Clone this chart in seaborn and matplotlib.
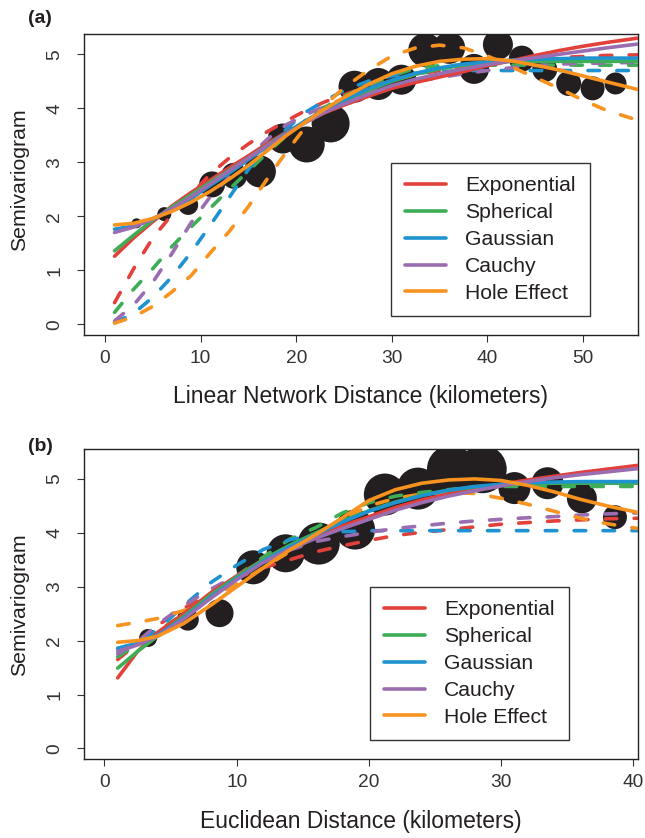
import numpy as np
import pandas as pd
import matplotlib
matplotlib.use("Agg")
import matplotlib.pyplot as plt
from matplotlib.lines import Line2D
import seaborn as sns

MODELS = ["Exponential", "Spherical", "Gaussian", "Cauchy", "Hole Effect"]
COLORS = ["#E2403A", "#3DAE55", "#1F92D0", "#9A6DB1", "#F7931E"]

# ---------------- Panel (a): linear network distance ----------------
a_pt_dist = [3.3, 6.2, 8.7, 11.2, 13.5, 16.2, 18.6, 21.1, 23.6, 26.1, 28.6,
             31.0, 33.5, 36.0, 38.6, 41.1, 43.6, 46.0, 48.5, 51.0, 53.4]
a_pt_gamma = [1.87, 2.04, 2.21, 2.59, 2.75, 2.83, 3.44, 3.33, 3.72, 4.40, 4.45,
              4.53, 5.08, 5.12, 4.73, 5.18, 4.92, 4.72, 4.46, 4.37, 4.46]
a_pt_weight = [5, 7, 10, 13, 13, 16, 15, 18, 19, 16, 16,
               15, 17, 16, 15, 15, 13, 12.5, 12.5, 12, 11]

a_grid = [1, 3, 5, 7, 9, 11, 13, 15, 17, 19, 21, 23, 25, 27.5, 30, 32.5, 35,
          37.5, 40, 42.5, 45, 47.5, 50, 52.5, 55.7]
a_solid_exponential = [1.26, 1.60, 1.90, 2.19, 2.44, 2.67, 2.90, 3.12, 3.35, 3.56, 3.75, 3.92, 4.06,
                       4.22, 4.37, 4.48, 4.58, 4.68, 4.79, 4.88, 4.98, 5.07, 5.15, 5.22, 5.30]
a_solid_spherical = [1.36, 1.65, 1.93, 2.17, 2.40, 2.63, 2.85, 3.08, 3.32, 3.55, 3.75, 3.95, 4.13,
                     4.33, 4.50, 4.63, 4.73, 4.80, 4.85, 4.87, 4.87, 4.87, 4.87, 4.87, 4.87]
a_solid_gaussian = [1.76, 1.82, 1.95, 2.12, 2.33, 2.57, 2.80, 3.05, 3.30, 3.55, 3.77, 3.98, 4.15,
                    4.36, 4.52, 4.65, 4.75, 4.82, 4.86, 4.89, 4.91, 4.92, 4.93, 4.93, 4.93]
a_solid_cauchy = [1.70, 1.80, 1.95, 2.14, 2.36, 2.60, 2.84, 3.08, 3.31, 3.53, 3.74, 3.93, 4.08,
                  4.26, 4.42, 4.54, 4.64, 4.73, 4.81, 4.88, 4.94, 5.00, 5.06, 5.12, 5.19]
a_solid_hole = [1.84, 1.87, 1.96, 2.09, 2.26, 2.46, 2.69, 2.94, 3.22, 3.50, 3.75, 3.99, 4.20,
                4.44, 4.64, 4.78, 4.87, 4.91, 4.92, 4.88, 4.80, 4.71, 4.60, 4.49, 4.35]
a_dashed_exponential = [0.40, 1.03, 1.60, 2.03, 2.40, 2.78, 3.08, 3.34, 3.57, 3.77, 3.96, 4.12, 4.25,
                        4.40, 4.52, 4.62, 4.70, 4.77, 4.83, 4.87, 4.91, 4.94, 4.96, 4.98, 4.99]
a_dashed_spherical = [0.22, 0.65, 1.03, 1.44, 1.80, 2.15, 2.50, 2.84, 3.18, 3.50, 3.78, 4.02, 4.22,
                      4.43, 4.60, 4.74, 4.79, 4.80, 4.80, 4.80, 4.80, 4.80, 4.80, 4.80, 4.80]
a_dashed_gaussian = [0.03, 0.20, 0.50, 0.88, 1.33, 1.83, 2.35, 2.87, 3.28, 3.62, 3.93, 4.14, 4.33,
                     4.50, 4.60, 4.65, 4.68, 4.70, 4.70, 4.70, 4.70, 4.70, 4.70, 4.70, 4.70]
a_dashed_cauchy = [0.06, 0.36, 0.78, 1.31, 1.88, 2.36, 2.73, 3.10, 3.43, 3.70, 3.88, 4.04, 4.18,
                   4.30, 4.40, 4.50, 4.57, 4.64, 4.70, 4.75, 4.79, 4.82, 4.83, 4.84, 4.85]
a_dashed_hole = [0.02, 0.14, 0.33, 0.60, 0.90, 1.32, 1.72, 2.18, 2.70, 3.20, 3.66, 4.06, 4.38,
                 4.70, 4.97, 5.12, 5.17, 5.12, 4.97, 4.77, 4.57, 4.37, 4.15, 3.96, 3.78]

# ---------------- Panel (b): Euclidean distance ----------------
b_pt_dist = [3.3, 6.3, 8.7, 11.25, 13.7, 16.2, 18.95, 21.2, 23.7, 26.2, 28.6,
             31.0, 33.5, 36.1, 38.6]
b_pt_gamma = [2.05, 2.39, 2.51, 3.36, 3.62, 3.80, 4.06, 4.71, 4.82, 5.18, 5.18,
              4.83, 4.92, 4.64, 4.29]
b_pt_weight = [9, 11, 14, 17, 19, 21, 20, 21, 21, 24, 24, 16, 16, 15, 12]

b_grid = [1, 2.5, 4, 6, 8, 10, 12, 14, 16, 18, 20, 22, 24, 26, 28, 30, 32, 34,
          36, 38, 40.3]
b_solid_exponential = [1.31, 1.80, 2.15, 2.50, 2.88, 3.20, 3.50, 3.76, 3.96, 4.13, 4.30,
                       4.47, 4.61, 4.72, 4.82, 4.90, 4.98, 5.05, 5.12, 5.18, 5.25]
b_solid_spherical = [1.49, 1.80, 2.08, 2.45, 2.84, 3.18, 3.50, 3.77, 4.00, 4.22, 4.41,
                     4.57, 4.70, 4.79, 4.85, 4.89, 4.91, 4.92, 4.92, 4.92, 4.92]
b_solid_gaussian = [1.86, 1.95, 2.10, 2.42, 2.80, 3.15, 3.47, 3.74, 3.97, 4.20, 4.40,
                    4.56, 4.69, 4.79, 4.86, 4.90, 4.93, 4.94, 4.95, 4.95, 4.95]
b_solid_cauchy = [1.80, 1.92, 2.08, 2.40, 2.78, 3.13, 3.45, 3.70, 3.90, 4.08, 4.25,
                  4.42, 4.56, 4.68, 4.78, 4.87, 4.95, 5.02, 5.08, 5.13, 5.19]
b_solid_hole = [1.97, 2.00, 2.08, 2.32, 2.65, 3.00, 3.35, 3.68, 3.97, 4.28, 4.60,
                4.80, 4.92, 4.98, 5.00, 4.97, 4.88, 4.76, 4.62, 4.50, 4.38]
b_dashed_exponential = [1.65, 1.95, 2.28, 2.60, 2.88, 3.16, 3.35, 3.50, 3.65, 3.76, 3.86,
                        3.95, 4.01, 4.06, 4.11, 4.16, 4.19, 4.22, 4.24, 4.26, 4.27]
b_dashed_spherical = [1.70, 1.93, 2.17, 2.50, 2.88, 3.20, 3.55, 3.88, 4.10, 4.37, 4.56,
                      4.68, 4.75, 4.80, 4.85, 4.86, 4.86, 4.86, 4.86, 4.86, 4.86]
b_dashed_gaussian = [1.85, 1.96, 2.20, 2.65, 3.07, 3.40, 3.69, 3.87, 3.97, 4.02, 4.04,
                     4.04, 4.04, 4.04, 4.04, 4.04, 4.04, 4.04, 4.04, 4.04, 4.04]
b_dashed_cauchy = [1.75, 1.98, 2.30, 2.65, 2.95, 3.21, 3.45, 3.68, 3.84, 3.93, 4.01,
                   4.08, 4.13, 4.18, 4.22, 4.25, 4.28, 4.30, 4.33, 4.35, 4.37]
b_dashed_hole = [2.28, 2.34, 2.41, 2.56, 2.78, 3.05, 3.35, 3.65, 3.95, 4.25, 4.50,
                 4.64, 4.72, 4.75, 4.73, 4.64, 4.53, 4.40, 4.27, 4.17, 4.08]

X_TICKS_A = [0, 10, 20, 30, 40, 50]
X_TICKS_B = [0, 10, 20, 30, 40]
Y_TICKS = [0, 1, 2, 3, 4, 5]

sns.set_style("ticks")
plt.rcParams["font.family"] = ["Liberation Sans", "DejaVu Sans"]
plt.rcParams["text.color"] = "#231f20"
plt.rcParams["axes.labelcolor"] = "#231f20"
plt.rcParams["xtick.color"] = "#333333"
plt.rcParams["ytick.color"] = "#333333"

LW = 2.6
DASH = (0, (3.2, 4.8))


def long_frame(grid, curves):
    rows = []
    for model, vals in zip(MODELS, curves):
        for d, g in zip(grid, vals):
            rows.append({"distance": d, "gamma": g, "model": model})
    return pd.DataFrame(rows)


def draw_panel(ax, grid, solid, dashed, pdist, pgamma, pweight, xlim, ylim,
               xticks, xlabel, leg_anchor, ylab_y):
    w = np.asarray(pweight, dtype=float)
    pts = pd.DataFrame({"distance": pdist, "gamma": pgamma, "w2": w ** 2})
    sns.scatterplot(data=pts, x="distance", y="gamma", size="w2",
                    sizes=((1.44 * w.min()) ** 2, (1.44 * w.max()) ** 2),
                    color="#231f20", linewidth=0, legend=False, ax=ax, zorder=1)
    pal = dict(zip(MODELS, COLORS))
    sns.lineplot(data=long_frame(grid, dashed), x="distance", y="gamma",
                 hue="model", hue_order=MODELS, palette=pal, estimator=None,
                 lw=LW, linestyle=DASH, dash_capstyle="round",
                 legend=False, ax=ax, zorder=2)
    sns.lineplot(data=long_frame(grid, solid), x="distance", y="gamma",
                 hue="model", hue_order=MODELS, palette=pal, estimator=None,
                 lw=LW, solid_capstyle="round", legend=False, ax=ax, zorder=3)

    ax.set_xlim(*xlim)
    ax.set_ylim(*ylim)
    ax.set_xticks(xticks)
    ax.set_yticks(Y_TICKS)
    ax.set_xticklabels([str(t) for t in xticks])
    ax.set_yticklabels([str(t) for t in Y_TICKS], rotation=90, va="center")
    ax.tick_params(axis="both", direction="out", length=5, width=0.8,
                   labelsize=13.8)
    ax.tick_params(axis="x", pad=6)
    ax.tick_params(axis="y", pad=10)
    for sp in ax.spines.values():
        sp.set_visible(True)
        sp.set_color("#222222")
        sp.set_linewidth(1.0)

    ax.set_xlabel(xlabel, fontsize=16.5)
    ax.xaxis.set_label_coords(0.5, -0.203)
    ax.xaxis.label.set_va("center")
    ax.set_ylabel("Semivariogram", fontsize=15.3)
    ax.yaxis.set_label_coords(-0.117, ylab_y)
    ax.yaxis.label.set_va("center")
    ax.yaxis.label.set_ha("center")

    handles = [Line2D([], [], color=c, lw=LW) for c in COLORS]
    leg = ax.legend(handles, MODELS, loc="upper left", bbox_to_anchor=leg_anchor,
                    fontsize=15.2, frameon=True, fancybox=False,
                    borderpad=0.65, handlelength=1.95, handletextpad=0.9,
                    labelspacing=0.37, borderaxespad=0.0)
    leg.get_frame().set_edgecolor("#333333")
    leg.get_frame().set_linewidth(1.0)
    leg.get_frame().set_alpha(1.0)


fig = plt.figure(figsize=(6.45, 8.38), dpi=100)
ax_a = fig.add_axes([0.1302, 0.6002, 0.8589, 0.3588])
ax_b = fig.add_axes([0.1302, 0.0943, 0.8589, 0.3696])

draw_panel(ax_a, a_grid,
           [a_solid_exponential, a_solid_spherical, a_solid_gaussian, a_solid_cauchy, a_solid_hole],
           [a_dashed_exponential, a_dashed_spherical, a_dashed_gaussian, a_dashed_cauchy, a_dashed_hole],
           a_pt_dist, a_pt_gamma, a_pt_weight,
           (-2.2, 55.75), (-0.2, 5.37), X_TICKS_A,
           "Linear Network Distance (kilometers)", (0.555, 0.573), 0.515)

draw_panel(ax_b, b_grid,
           [b_solid_exponential, b_solid_spherical, b_solid_gaussian, b_solid_cauchy, b_solid_hole],
           [b_dashed_exponential, b_dashed_spherical, b_dashed_gaussian, b_dashed_cauchy, b_dashed_hole],
           b_pt_dist, b_pt_gamma, b_pt_weight,
           (-1.55, 40.34), (-0.195, 5.55), X_TICKS_B,
           "Euclidean Distance (kilometers)", (0.517, 0.556), 0.497)

fig.text(0.062, 0.9785, "(a)", fontsize=14, fontweight="bold", ha="center", va="center")
fig.text(0.062, 0.4675, "(b)", fontsize=14, fontweight="bold", ha="center", va="center")

fig.savefig("out.png", dpi=100, facecolor="white")
